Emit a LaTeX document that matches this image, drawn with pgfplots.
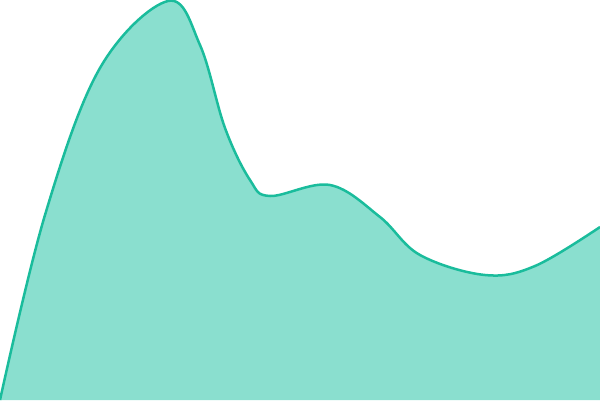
\documentclass[border=0pt]{standalone}
\usepackage{pgfplots}
\pgfplotsset{compat=1.18}
\definecolor{turq}{HTML}{1ABC9C}
\definecolor{turqfill}{HTML}{8ADFCF}
\begin{document}
\begin{tikzpicture}
\begin{axis}[
    hide axis,
    scale only axis,
    width=600bp, height=400bp,
    xmin=0, xmax=600, ymin=0, ymax=400,
    clip=true,
    ]
\pgfplotstableread{
x y
0 0
45 185
100 332
168 399
200 355
225 272
250 220
270 204
330 215
380 183
420 145
485 125
535 134
600 173
}\curve
\addplot[fill=turqfill, draw=none, smooth, tension=0.6] table {\curve} \closedcycle;
\addplot[turq, line width=2.5bp, smooth, tension=0.6] table {\curve};
\end{axis}
\end{tikzpicture}
\end{document}
